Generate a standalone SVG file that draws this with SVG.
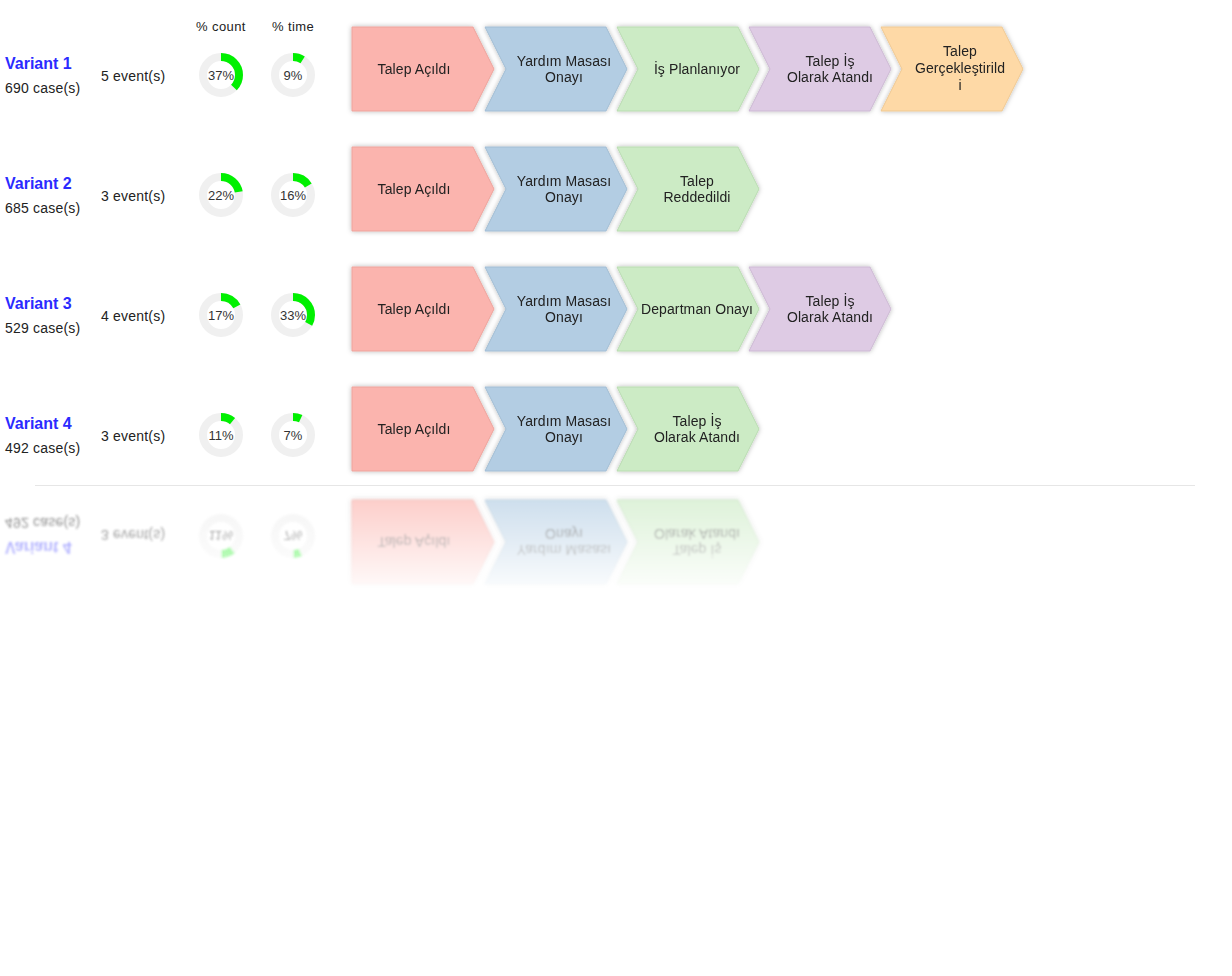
<svg xmlns="http://www.w3.org/2000/svg" xmlns:xlink="http://www.w3.org/1999/xlink" width="1232" height="976" viewBox="0 0 1232 976">
<defs>
<style>
text{font-family:"Liberation Sans",Arial,sans-serif;fill:#222;}
.vname{font-size:16px;font-weight:bold;fill:#2b2bff;}
.small{font-size:14px;letter-spacing:0.2px;}
.hdr{font-size:13px;text-anchor:middle;letter-spacing:0.4px;}
.pct{font-size:13px;text-anchor:middle;fill:#333;}
.lbl{font-size:14px;text-anchor:middle;fill:#222;letter-spacing:0.1px;}
.track{fill:none;stroke:#f0f0f0;stroke-width:8;}
.arc{fill:none;stroke:#00f000;stroke-width:8;}
.c1{fill:#fbb4ae;stroke:#eea39c;}
.c2{fill:#b3cde3;stroke:#a2bdd4;}
.c3{fill:#ccebc5;stroke:#b9dcb1;}
.c4{fill:#decbe4;stroke:#cdb9d4;}
.c5{fill:#fed9a6;stroke:#efc993;}
.chev{filter:url(#shadow);}
</style>
<filter id="shadow" x="-20%" y="-20%" width="140%" height="140%">
<feDropShadow dx="0" dy="0" stdDeviation="2.5" flood-color="#000" flood-opacity="0.28"/>
</filter>
<filter id="blur" x="-5%" y="-10%" width="110%" height="120%">
<feGaussianBlur stdDeviation="1.2"/>
</filter>
<linearGradient id="fadeGrad" gradientUnits="userSpaceOnUse" x1="0" y1="492" x2="0" y2="598">
<stop offset="0" stop-color="#fff" stop-opacity="0.7"/>
<stop offset="0.5" stop-color="#fff" stop-opacity="0.35"/>
<stop offset="1" stop-color="#fff" stop-opacity="0"/>
</linearGradient>
<mask id="fade" maskUnits="userSpaceOnUse" x="0" y="486" width="1232" height="130">
<rect x="0" y="486" width="1232" height="130" fill="url(#fadeGrad)"/>
</mask>
<path id="chevFirst" d="M0,0 H121 L142,42 L121,84 H0 Z"/>
<path id="chevNext" d="M0,0 H121 L142,42 L121,84 H0 L21,42 Z"/>
</defs>
<rect width="1232" height="976" fill="#fff"/>

<g id="header">
<text class="hdr" x="221" y="31">% count</text>
<text class="hdr" x="293" y="31">% time</text>
</g>

<g id="connectors"></g>

<!-- Variant 1 -->
<g id="variant1">
<text class="vname" x="5" y="69">Variant 1</text>
<text class="small" x="5" y="93">690 case(s)</text>
<text class="small" x="101" y="81">5 event(s)</text>
<g id="v1-count"><circle class="track" cx="221" cy="75" r="18"/><circle class="arc" cx="221" cy="75" r="18" stroke-dasharray="41.85 200" transform="rotate(-90 221 75)"/><text class="pct" x="221" y="80">37%</text></g>
<g id="v1-time"><circle class="track" cx="293" cy="75" r="18"/><circle class="arc" cx="293" cy="75" r="18" stroke-dasharray="10.18 200" transform="rotate(-90 293 75)"/><text class="pct" x="293" y="80">9%</text></g>
<g id="v1-n1" class="chev"><use href="#chevFirst" class="c1" x="352" y="27"/><text class="lbl" x="414" y="74">Talep Açıldı</text></g>
<g id="v1-n2" class="chev"><use href="#chevNext" class="c2" x="485" y="27"/><text class="lbl" x="564" y="66">Yardım Masası</text><text class="lbl" x="564" y="82">Onayı</text></g>
<g id="v1-n3" class="chev"><use href="#chevNext" class="c3" x="617" y="27"/><text class="lbl" x="697" y="74">İş Planlanıyor</text></g>
<g id="v1-n4" class="chev"><use href="#chevNext" class="c4" x="749" y="27"/><text class="lbl" x="830" y="66">Talep İş</text><text class="lbl" x="830" y="82">Olarak Atandı</text></g>
<g id="v1-n5" class="chev"><use href="#chevNext" class="c5" x="881" y="27"/><text class="lbl" x="960" y="56">Talep</text><text class="lbl" x="960" y="73">Gerçekleştirild</text><text class="lbl" x="960" y="90">i</text></g>
</g>

<!-- Variant 2 -->
<g id="variant2">
<text class="vname" x="5" y="189">Variant 2</text>
<text class="small" x="5" y="213">685 case(s)</text>
<text class="small" x="101" y="201">3 event(s)</text>
<g id="v2-count"><circle class="track" cx="221" cy="195" r="18"/><circle class="arc" cx="221" cy="195" r="18" stroke-dasharray="24.88 200" transform="rotate(-90 221 195)"/><text class="pct" x="221" y="200">22%</text></g>
<g id="v2-time"><circle class="track" cx="293" cy="195" r="18"/><circle class="arc" cx="293" cy="195" r="18" stroke-dasharray="18.10 200" transform="rotate(-90 293 195)"/><text class="pct" x="293" y="200">16%</text></g>
<g id="v2-n1" class="chev"><use href="#chevFirst" class="c1" x="352" y="147"/><text class="lbl" x="414" y="194">Talep Açıldı</text></g>
<g id="v2-n2" class="chev"><use href="#chevNext" class="c2" x="485" y="147"/><text class="lbl" x="564" y="186">Yardım Masası</text><text class="lbl" x="564" y="202">Onayı</text></g>
<g id="v2-n3" class="chev"><use href="#chevNext" class="c3" x="617" y="147"/><text class="lbl" x="697" y="186">Talep</text><text class="lbl" x="697" y="202">Reddedildi</text></g>
</g>

<!-- Variant 3 -->
<g id="variant3">
<text class="vname" x="5" y="309">Variant 3</text>
<text class="small" x="5" y="333">529 case(s)</text>
<text class="small" x="101" y="321">4 event(s)</text>
<g id="v3-count"><circle class="track" cx="221" cy="315" r="18"/><circle class="arc" cx="221" cy="315" r="18" stroke-dasharray="19.23 200" transform="rotate(-90 221 315)"/><text class="pct" x="221" y="320">17%</text></g>
<g id="v3-time"><circle class="track" cx="293" cy="315" r="18"/><circle class="arc" cx="293" cy="315" r="18" stroke-dasharray="37.32 200" transform="rotate(-90 293 315)"/><text class="pct" x="293" y="320">33%</text></g>
<g id="v3-n1" class="chev"><use href="#chevFirst" class="c1" x="352" y="267"/><text class="lbl" x="414" y="314">Talep Açıldı</text></g>
<g id="v3-n2" class="chev"><use href="#chevNext" class="c2" x="485" y="267"/><text class="lbl" x="564" y="306">Yardım Masası</text><text class="lbl" x="564" y="322">Onayı</text></g>
<g id="v3-n3" class="chev"><use href="#chevNext" class="c3" x="617" y="267"/><text class="lbl" x="697" y="314">Departman Onayı</text></g>
<g id="v3-n4" class="chev"><use href="#chevNext" class="c4" x="749" y="267"/><text class="lbl" x="830" y="306">Talep İş</text><text class="lbl" x="830" y="322">Olarak Atandı</text></g>
</g>

<!-- Variant 4 -->
<g id="variant4">
<text class="vname" x="5" y="429">Variant 4</text>
<text class="small" x="5" y="453">492 case(s)</text>
<text class="small" x="101" y="441">3 event(s)</text>
<g id="v4-count"><circle class="track" cx="221" cy="435" r="18"/><circle class="arc" cx="221" cy="435" r="18" stroke-dasharray="12.44 200" transform="rotate(-90 221 435)"/><text class="pct" x="221" y="440">11%</text></g>
<g id="v4-time"><circle class="track" cx="293" cy="435" r="18"/><circle class="arc" cx="293" cy="435" r="18" stroke-dasharray="7.92 200" transform="rotate(-90 293 435)"/><text class="pct" x="293" y="440">7%</text></g>
<g id="v4-n1" class="chev"><use href="#chevFirst" class="c1" x="352" y="387"/><text class="lbl" x="414" y="434">Talep Açıldı</text></g>
<g id="v4-n2" class="chev"><use href="#chevNext" class="c2" x="485" y="387"/><text class="lbl" x="564" y="426">Yardım Masası</text><text class="lbl" x="564" y="442">Onayı</text></g>
<g id="v4-n3" class="chev"><use href="#chevNext" class="c3" x="617" y="387"/><text class="lbl" x="697" y="426">Talep İş</text><text class="lbl" x="697" y="442">Olarak Atandı</text></g>
</g>

<line id="separator" x1="35" y1="485.5" x2="1195" y2="485.5" stroke="#e6e6e6" stroke-width="1"/>

<g id="reflection" mask="url(#fade)">
<use href="#variant4" transform="translate(0,971) scale(1,-1)" filter="url(#blur)"/>
</g>
</svg>
